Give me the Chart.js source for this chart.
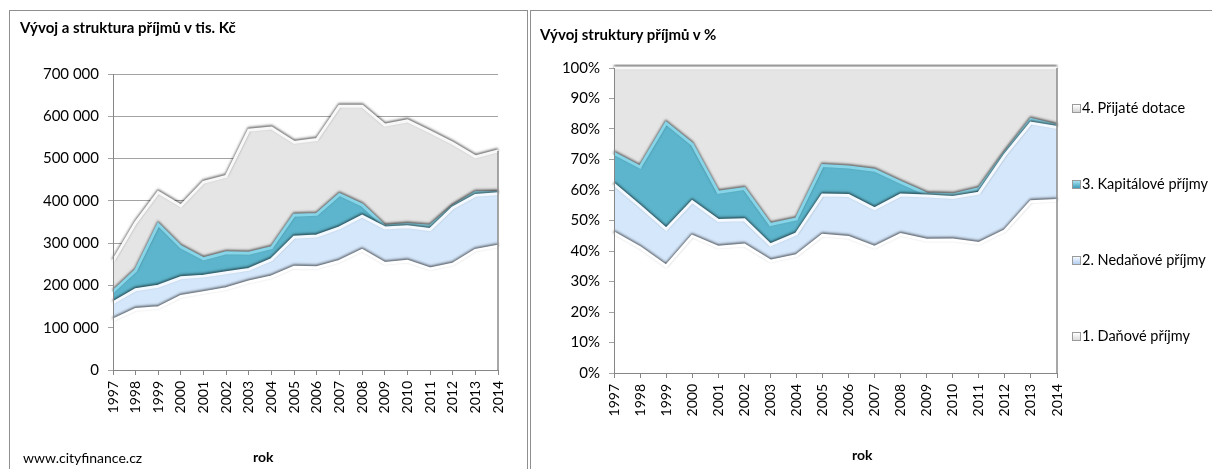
<!DOCTYPE html>
<html>
<head>
<meta charset="utf-8">
<script src="https://cdn.jsdelivr.net/npm/chart.js@4/dist/chart.umd.min.js"></script>
<style>
  body { margin: 0; width: 1212px; height: 469px; overflow: hidden; background: #fff; position: relative; font-family: Lato, sans-serif; color: #000; }
  .panel { position: absolute; border: 1px solid #8f8f8f; background: #fff; }
  .txt { position: absolute; white-space: nowrap; line-height: normal; }
  .bold { font-weight: bold; }
  canvas { position: absolute; }
  .leg { position: absolute; white-space: nowrap; font-size: 14.5px; line-height: normal; }
  .icon { position: absolute; width: 7px; height: 7px; border: 1px solid #9a9a9a; }
</style>
</head>
<body>
<div class="panel" style="left:9px;top:10px;width:517px;height:500px"></div>
<div class="panel" style="left:530px;top:10px;width:720px;height:500px"></div>

<canvas id="absChart" width="516" height="458" style="left:10px;top:11px"></canvas>
<canvas id="pctChart" width="681" height="458" style="left:531px;top:11px"></canvas>

<div class="txt bold" style="left:20px;top:18px;font-size:15px">Vývoj a struktura příjmů v tis. Kč</div>
<div class="txt bold" style="left:540px;top:25px;font-size:15px">Vývoj struktury příjmů v %</div>
<div class="txt" style="left:23px;top:449px;font-size:14px">www.cityfinance.cz</div>
<div class="txt bold" style="left:253px;top:448px;font-size:14px">rok</div>
<div class="txt bold" style="left:852px;top:446px;font-size:14px">rok</div>
<div id="legend"></div>

<script>
// Years on the x axis
var years = ['1997', '1998', '1999', '2000', '2001', '2002', '2003', '2004', '2005',
  '2006', '2007', '2008', '2009', '2010', '2011', '2012', '2013', '2014'];

// Income in thousands CZK
var danove = [118000, 143000, 147000, 174000, 183000, 192000, 208000, 220000, 243000,
  242000, 257000, 283000, 252000, 257000, 239000, 250000, 283000, 293000];
var nedanove = [41000, 47000, 51000, 44000, 39000, 38000, 30000, 41000, 71000,
  75000, 79000, 81000, 84000, 82000, 93000, 133000, 130000, 124000];
var kapitalove = [26000, 45000, 146000, 73000, 41000, 47000, 38000, 28000, 52000,
  51000, 79000, 26000, 4000, 5000, 8000, 4000, 6000, 3000];
var dotace = [72000, 113000, 76000, 97000, 181000, 181000, 291000, 283000, 172000,
  177000, 209000, 234000, 239000, 245000, 223000, 149000, 85000, 98000];

var seriesNames = ['1. Daňové příjmy', '2. Nedaňové příjmy', '3. Kapitálové příjmy', '4. Přijaté dotace'];
var fillColors = ['#ffffff', '#d5e7fb', '#5cb5cc', '#e5e5e5'];
var edgeColors = ['#ffffff', '#f3f9ff', '#86d4e7', '#f8f8f8'];
var iconFills = [
  'linear-gradient(#ffffff, #dcdcdc)',
  'linear-gradient(#f4f9ff, #b3cff0)',
  'linear-gradient(#a6e3f1, #3f9cb8)',
  'linear-gradient(#ffffff, #d4d4d4)'];

var absTicks = [0, 100000, 200000, 300000, 400000, 500000, 600000, 700000];
var pctTicks = [0, 10, 20, 30, 40, 50, 60, 70, 80, 90, 100];

var series = [danove, nedanove, kapitalove, dotace];

// totals per year, used for the 100 % chart
var totals = years.map(function (y, i) {
  return danove[i] + nedanove[i] + kapitalove[i] + dotace[i];
});

Chart.defaults.font.family = 'Lato';
Chart.defaults.color = '#000';

function buildDatasets(list) {
  return list.map(function (values, i) {
    return {
      label: seriesNames[i],
      data: values,
      backgroundColor: fillColors[i],
      borderColor: edgeColors[i],
      borderWidth: 3,
      fill: i === 0 ? 'origin' : '-1',
      pointRadius: 0,
      tension: 0,
      clip: 4
    };
  });
}

// soft shadow on the edge lines gives the bevelled look of the original
var bevel = {
  id: 'bevel',
  beforeDatasetDraw: function (chart) {
    var ctx = chart.ctx;
    ctx.save();
    ctx.shadowColor = 'rgba(0,0,0,0.6)';
    ctx.shadowBlur = 2.5;
    ctx.shadowOffsetY = -1.5;
  },
  afterDatasetDraw: function (chart) {
    chart.ctx.restore();
  },
  afterDatasetsDraw: function (chart) {
    var meta = chart.getDatasetMeta(chart.data.datasets.length - 1);
    var last = meta.data[meta.data.length - 1];
    var area = chart.chartArea;
    var ctx = chart.ctx;
    ctx.save();
    ctx.strokeStyle = '#8a8a8a';
    ctx.lineWidth = 1.5;
    ctx.beginPath();
    ctx.moveTo(area.right, last.y);
    ctx.lineTo(area.right, area.bottom);
    ctx.stroke();
    ctx.restore();
  }
};

function buildOptions(yScale, yWidth, xHeight, padding) {
  return {
    responsive: false,
    animation: false,
    layout: { padding: padding },
    plugins: {
      legend: { display: false },
      tooltip: { enabled: false },
      filler: { drawTime: 'beforeDatasetsDraw' }
    },
    scales: {
      x: {
        grid: { drawOnChartArea: false, tickLength: 5, color: '#868686' },
        border: { color: '#868686', z: 1 },
        ticks: { autoSkip: false, minRotation: 90, maxRotation: 90, padding: 6, font: { size: 14 } },
        afterFit: function (s) { s.height = xHeight; }
      },
      y: Object.assign({
        stacked: true,
        min: 0,
        grid: { color: '#a3a3a3', tickLength: 5 },
        border: { color: '#868686', z: 1 },
        afterFit: function (s) { s.width = yWidth; }
      }, yScale)
    }
  };
}

new Chart(document.getElementById('absChart'), {
  type: 'line',
  data: { labels: years, datasets: buildDatasets(series) },
  options: buildOptions({
    max: 700000,
    afterBuildTicks: function (s) { s.ticks = absTicks.map(function (v) { return { value: v }; }); },
    ticks: {
      padding: 9,
      font: { size: 15 },
      callback: function (v) { return String(v).replace(/\B(?=(\d{3})+(?!\d))/g, ' '); }
    }
  }, 103, 99, { left: 0, right: 28, top: 63, bottom: 0 }),
  plugins: [bevel]
});

var pctSeries = series.map(function (values) {
  return values.map(function (v, i) { return v / totals[i] * 100; });
});

new Chart(document.getElementById('pctChart'), {
  type: 'line',
  data: { labels: years, datasets: buildDatasets(pctSeries) },
  options: buildOptions({
    max: 100,
    afterBuildTicks: function (s) { s.ticks = pctTicks.map(function (v) { return { value: v }; }); },
    ticks: {
      padding: 9,
      font: { size: 15 },
      callback: function (v) { return v + '%'; }
    }
  }, 83, 96, { left: 0, right: 155, top: 57, bottom: 0 }),
  plugins: [bevel]
});

// legend on the right, top entry is the last series
var legendBox = document.getElementById('legend');
for (var k = 0; k < seriesNames.length; k++) {
  var idx = seriesNames.length - 1 - k;
  var rowTop = 99 + k * 76;
  var icon = document.createElement('div');
  icon.className = 'icon';
  icon.style.left = '1072px';
  icon.style.top = (rowTop + 5) + 'px';
  icon.style.background = iconFills[idx];
  legendBox.appendChild(icon);
  var label = document.createElement('div');
  label.className = 'leg';
  label.style.left = '1082px';
  label.style.top = rowTop + 'px';
  label.textContent = seriesNames[idx];
  legendBox.appendChild(label);
}
</script>
</body>
</html>
